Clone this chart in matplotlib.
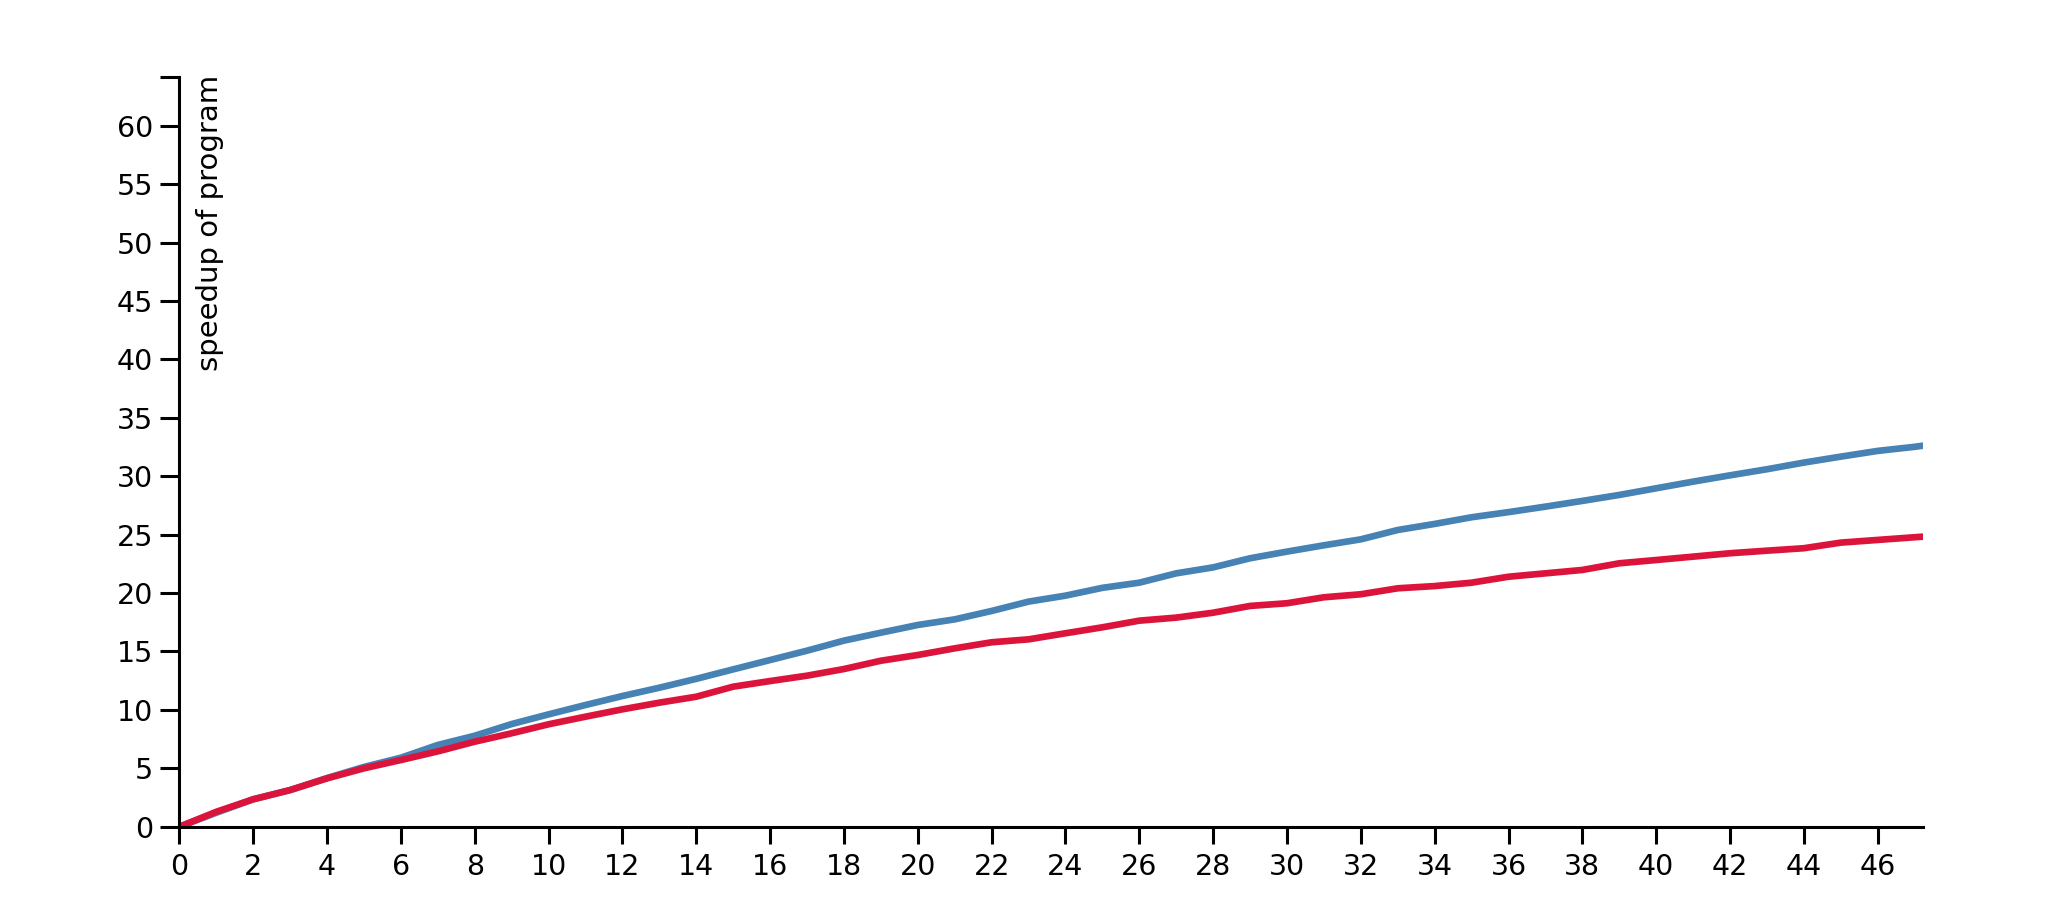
import matplotlib
matplotlib.use("Agg")
import matplotlib.pyplot as plt

# data (x = integer steps)
x_vals = list(range(0, 49))
blue_vals = [0.0, 1.2, 2.35, 3.14, 4.17, 5.12, 5.91, 7.0, 7.79, 8.79, 9.62, 10.42, 11.19,
             11.9, 12.66, 13.47, 14.27, 15.07, 15.93, 16.61, 17.27, 17.75, 18.47, 19.27,
             19.78, 20.45, 20.89, 21.69, 22.2, 22.98, 23.55, 24.09, 24.6, 25.4, 25.92,
             26.49, 26.93, 27.4, 27.89, 28.4, 28.97, 29.54, 30.08, 30.6, 31.17, 31.68,
             32.17, 32.52, 32.95]
red_vals = [0.0, 1.28, 2.35, 3.14, 4.14, 5.0, 5.71, 6.45, 7.28, 8.0, 8.77, 9.42, 10.05,
            10.62, 11.13, 11.99, 12.47, 12.93, 13.5, 14.21, 14.7, 15.27, 15.79, 16.04,
            16.56, 17.07, 17.64, 17.9, 18.32, 18.9, 19.13, 19.64, 19.9, 20.41, 20.6,
            20.89, 21.4, 21.69, 21.98, 22.55, 22.83, 23.12, 23.41, 23.63, 23.84, 24.32,
            24.55, 24.78, 25.0]
x_ticks = list(range(0, 47, 2))
y_ticks = list(range(0, 61, 5))
y_label = "speedup of program"

plt.rcParams['font.family'] = ['DejaVu Sans']

fig = plt.figure(figsize=(20.48, 9.10), dpi=100)
ax = fig.add_axes([0.0876, 0.0915, 0.8516, 0.8242])

ax.plot(x_vals, blue_vals, color='#4682b4', lw=4.8, solid_joinstyle='miter', clip_on=True)
ax.plot(x_vals, red_vals, color='#dc143c', lw=4.8, solid_joinstyle='miter', clip_on=True)

ax.set_xlim(0, 47.24)
ax.set_ylim(0, 64.2)
ax.set_xticks(x_ticks)
ax.set_yticks(y_ticks)
ax.set_yticks([64.2], minor=True)
ax.tick_params(axis='y', which='minor', length=14, width=2.2, labelleft=False)
ax.tick_params(axis='y', which='major', length=14, width=2.2, labelsize=20.5, pad=5, colors='black')
ax.tick_params(axis='x', which='major', length=12.5, width=2.2, labelsize=20.5, pad=6.5, colors='black')

for s in ['top', 'right']:
    ax.spines[s].set_visible(False)
for s in ['left', 'bottom']:
    ax.spines[s].set_linewidth(2.2)
    ax.spines[s].set_color('black')

ax.text(0.0095, 1.003, y_label, transform=ax.transAxes, rotation=90,
        ha='left', va='top', fontsize=21, color='black')

fig.savefig("out.png", dpi=100, facecolor='white')
